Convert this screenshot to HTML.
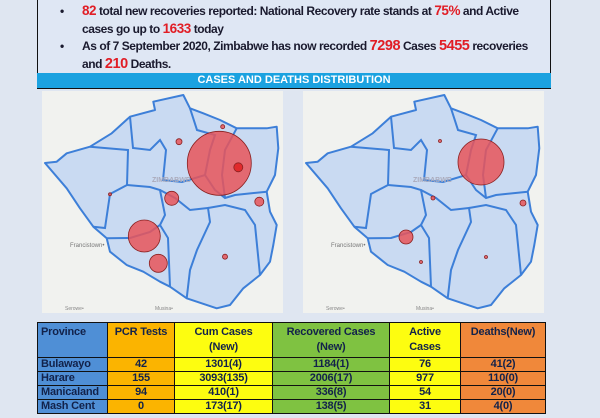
<!DOCTYPE html>
<html><head><meta charset="utf-8">
<style>
body{margin:0;width:600px;height:418px;overflow:hidden;background:#dfe6f1;font-family:"Liberation Sans",sans-serif;position:relative}
#box{position:absolute;left:37px;top:-2px;width:512px;height:75px;border:1.5px solid #111;background:#dfe7f4}
ul{margin:0;padding:0;list-style:none;position:absolute;left:50px;top:3px;width:490px}
li{position:relative;padding-left:32px;font-size:12px;letter-spacing:-0.45px;font-weight:bold;color:#1a1a2e;line-height:17.5px;margin:0}
li:before{content:"•";position:absolute;left:10px;top:0}
.r{color:#e11d25;font-size:13.5px;line-height:10px}
#title{position:absolute;left:37px;top:73px;width:514px;height:15px;background:#1ba2e0;color:#fff;font-size:11px;font-weight:bold;text-align:center;line-height:15px;border-bottom:1.5px solid #111}
table{position:absolute;left:37px;top:322px;border-collapse:collapse;font-size:11px;letter-spacing:-0.2px;font-weight:bold;color:#12224a}
td{border:1px solid #111;padding:0 3px;text-align:center;height:13px;line-height:13px}
td:first-child{text-align:left;background:#4f8fd6}
thead td{vertical-align:top;height:32px;line-height:15px;padding-top:2px}
.c2{background:#fbb400}.c3{background:#fdfd10}.c4{background:#7fc241}.c5{background:#fdfd10}.c6{background:#f0883a}
</style></head><body>
<div id="box"></div>
<ul>
<li><span class="r">82</span> total new recoveries reported: National Recovery rate stands at <span class="r">75%</span> and Active cases go up to <span class="r">1633</span> today</li>
<li>As of 7 September 2020, Zimbabwe has now recorded <span class="r" style="font-size:14.5px">7298</span> Cases <span class="r" style="font-size:14.5px">5455</span> recoveries and <span class="r" style="font-size:14.5px">210</span> Deaths.</li>
</ul>
<div id="title">CASES AND DEATHS DISTRIBUTION</div>
<svg width="600" height="418" style="position:absolute;left:0;top:0">
<defs>
<g id="map">
<rect x="42" y="91" width="241" height="222" fill="#f1f2ef"/>
<polygon points="45,163 56.7,161.7 66.7,153.3 90,146.7 111.7,133.3 130,116.7 155,110 153.3,101.7 183.3,95 190,108.3 203.3,113.3 220,120 236.7,128.3 266.7,128.3 276.7,126.7 278.3,148.3 275,175 266.7,191.7 270,211.7 276.7,225 273.3,245 270,261.7 260,275 243.3,288.3 230,305 216.7,308.3 186.7,298.3 170,286.7 160,281.7 143.3,271.7 126.7,265 110,251.7 106.7,238.3 93.3,226.7 80,208.3 66.7,188.3" fill="#c9daf2" stroke="#3d7fd8" stroke-width="2" stroke-linejoin="round"/>
<g fill="none" stroke="#3d7fd8" stroke-width="2">
<path d="M130,116.7 L133,148 L150,150 L160,140 L166,150 L163,180 L182,182 L205,175 L215,190 L225,198 L235,195 L266.7,191.7"/>
<path d="M90,146.7 L128,150 L127,185 L110,194 L105,228 L93.3,226.7"/>
<path d="M127,185 L150,187 L160,190 L165,215 L160,225 L168,238 L170,286.7"/>
<path d="M190,108.3 L197,130 L215,135 L210,150 L205,175"/>
<path d="M236.7,128.3 L225,150 L222,175 L225,198"/>
<path d="M160,190 L175,198 L190,210 L208,208 L210,222 L197,250 L190,270 L186.7,298.3"/>
<path d="M208,208 L225,205 L245,210 L255,225 L260,275"/>
<path d="M106.7,238.3 L130,238 L150,232 L160,225"/>
</g>
<text x="70" y="247" font-size="6" fill="#777">Francistown•</text>
<text x="65" y="310" font-size="5" fill="#888">Serowe•</text>
<text x="155" y="310" font-size="5" fill="#888">Musina•</text>
<text x="152" y="182" font-size="7" fill="#aab" font-weight="bold">ZIMBABWE</text>
</g>
</defs>
<use href="#map"/>
<g fill="#e8555a" fill-opacity="0.85" stroke="#8a2020" stroke-width="0.8">
<circle cx="219.3" cy="163.3" r="32"/>
<circle cx="144.3" cy="236" r="16"/>
<circle cx="158.3" cy="263.3" r="9"/>
<circle cx="171.7" cy="198.3" r="7"/>
<circle cx="238.3" cy="167.3" r="4.5" fill="#e02020"/>
<circle cx="259.3" cy="201.7" r="4.5"/>
<circle cx="179" cy="141.7" r="3"/>
<circle cx="222.7" cy="126.7" r="2"/>
<circle cx="110" cy="194.3" r="1.5"/>
<circle cx="225" cy="256.7" r="2.5"/>
</g>
<g transform="translate(261,0)"><use href="#map"/>
<g fill="#e8555a" fill-opacity="0.85" stroke="#8a2020" stroke-width="0.8">
<circle cx="220" cy="162" r="23"/>
<circle cx="145" cy="237" r="7"/>
<circle cx="262" cy="203" r="3"/>
<circle cx="172" cy="198" r="2"/>
<circle cx="179" cy="141" r="1.5"/>
<circle cx="160" cy="262" r="1.5"/>
<circle cx="225" cy="257" r="1.5"/>
</g></g>
</svg>
<table>
<thead><tr>
<td style="width:63px">Province</td><td class="c2" style="width:60px">PCR Tests</td><td class="c3" style="width:91px">Cum Cases<br>(New)</td><td class="c4" style="width:110px">Recovered Cases<br>(New)</td><td class="c5" style="width:64px">Active<br>Cases</td><td class="c6" style="width:78px">Deaths(New)</td></tr></thead>
<tbody>
<tr><td>Bulawayo</td><td class="c2">42</td><td class="c3">1301(4)</td><td class="c4">1184(1)</td><td class="c5">76</td><td class="c6">41(2)</td></tr>
<tr><td>Harare</td><td class="c2">155</td><td class="c3">3093(135)</td><td class="c4">2006(17)</td><td class="c5">977</td><td class="c6">110(0)</td></tr>
<tr><td>Manicaland</td><td class="c2">94</td><td class="c3">410(1)</td><td class="c4">336(8)</td><td class="c5">54</td><td class="c6">20(0)</td></tr>
<tr><td>Mash Cent</td><td class="c2">0</td><td class="c3">173(17)</td><td class="c4">138(5)</td><td class="c5">31</td><td class="c6">4(0)</td></tr>
</tbody></table>
</body></html>
